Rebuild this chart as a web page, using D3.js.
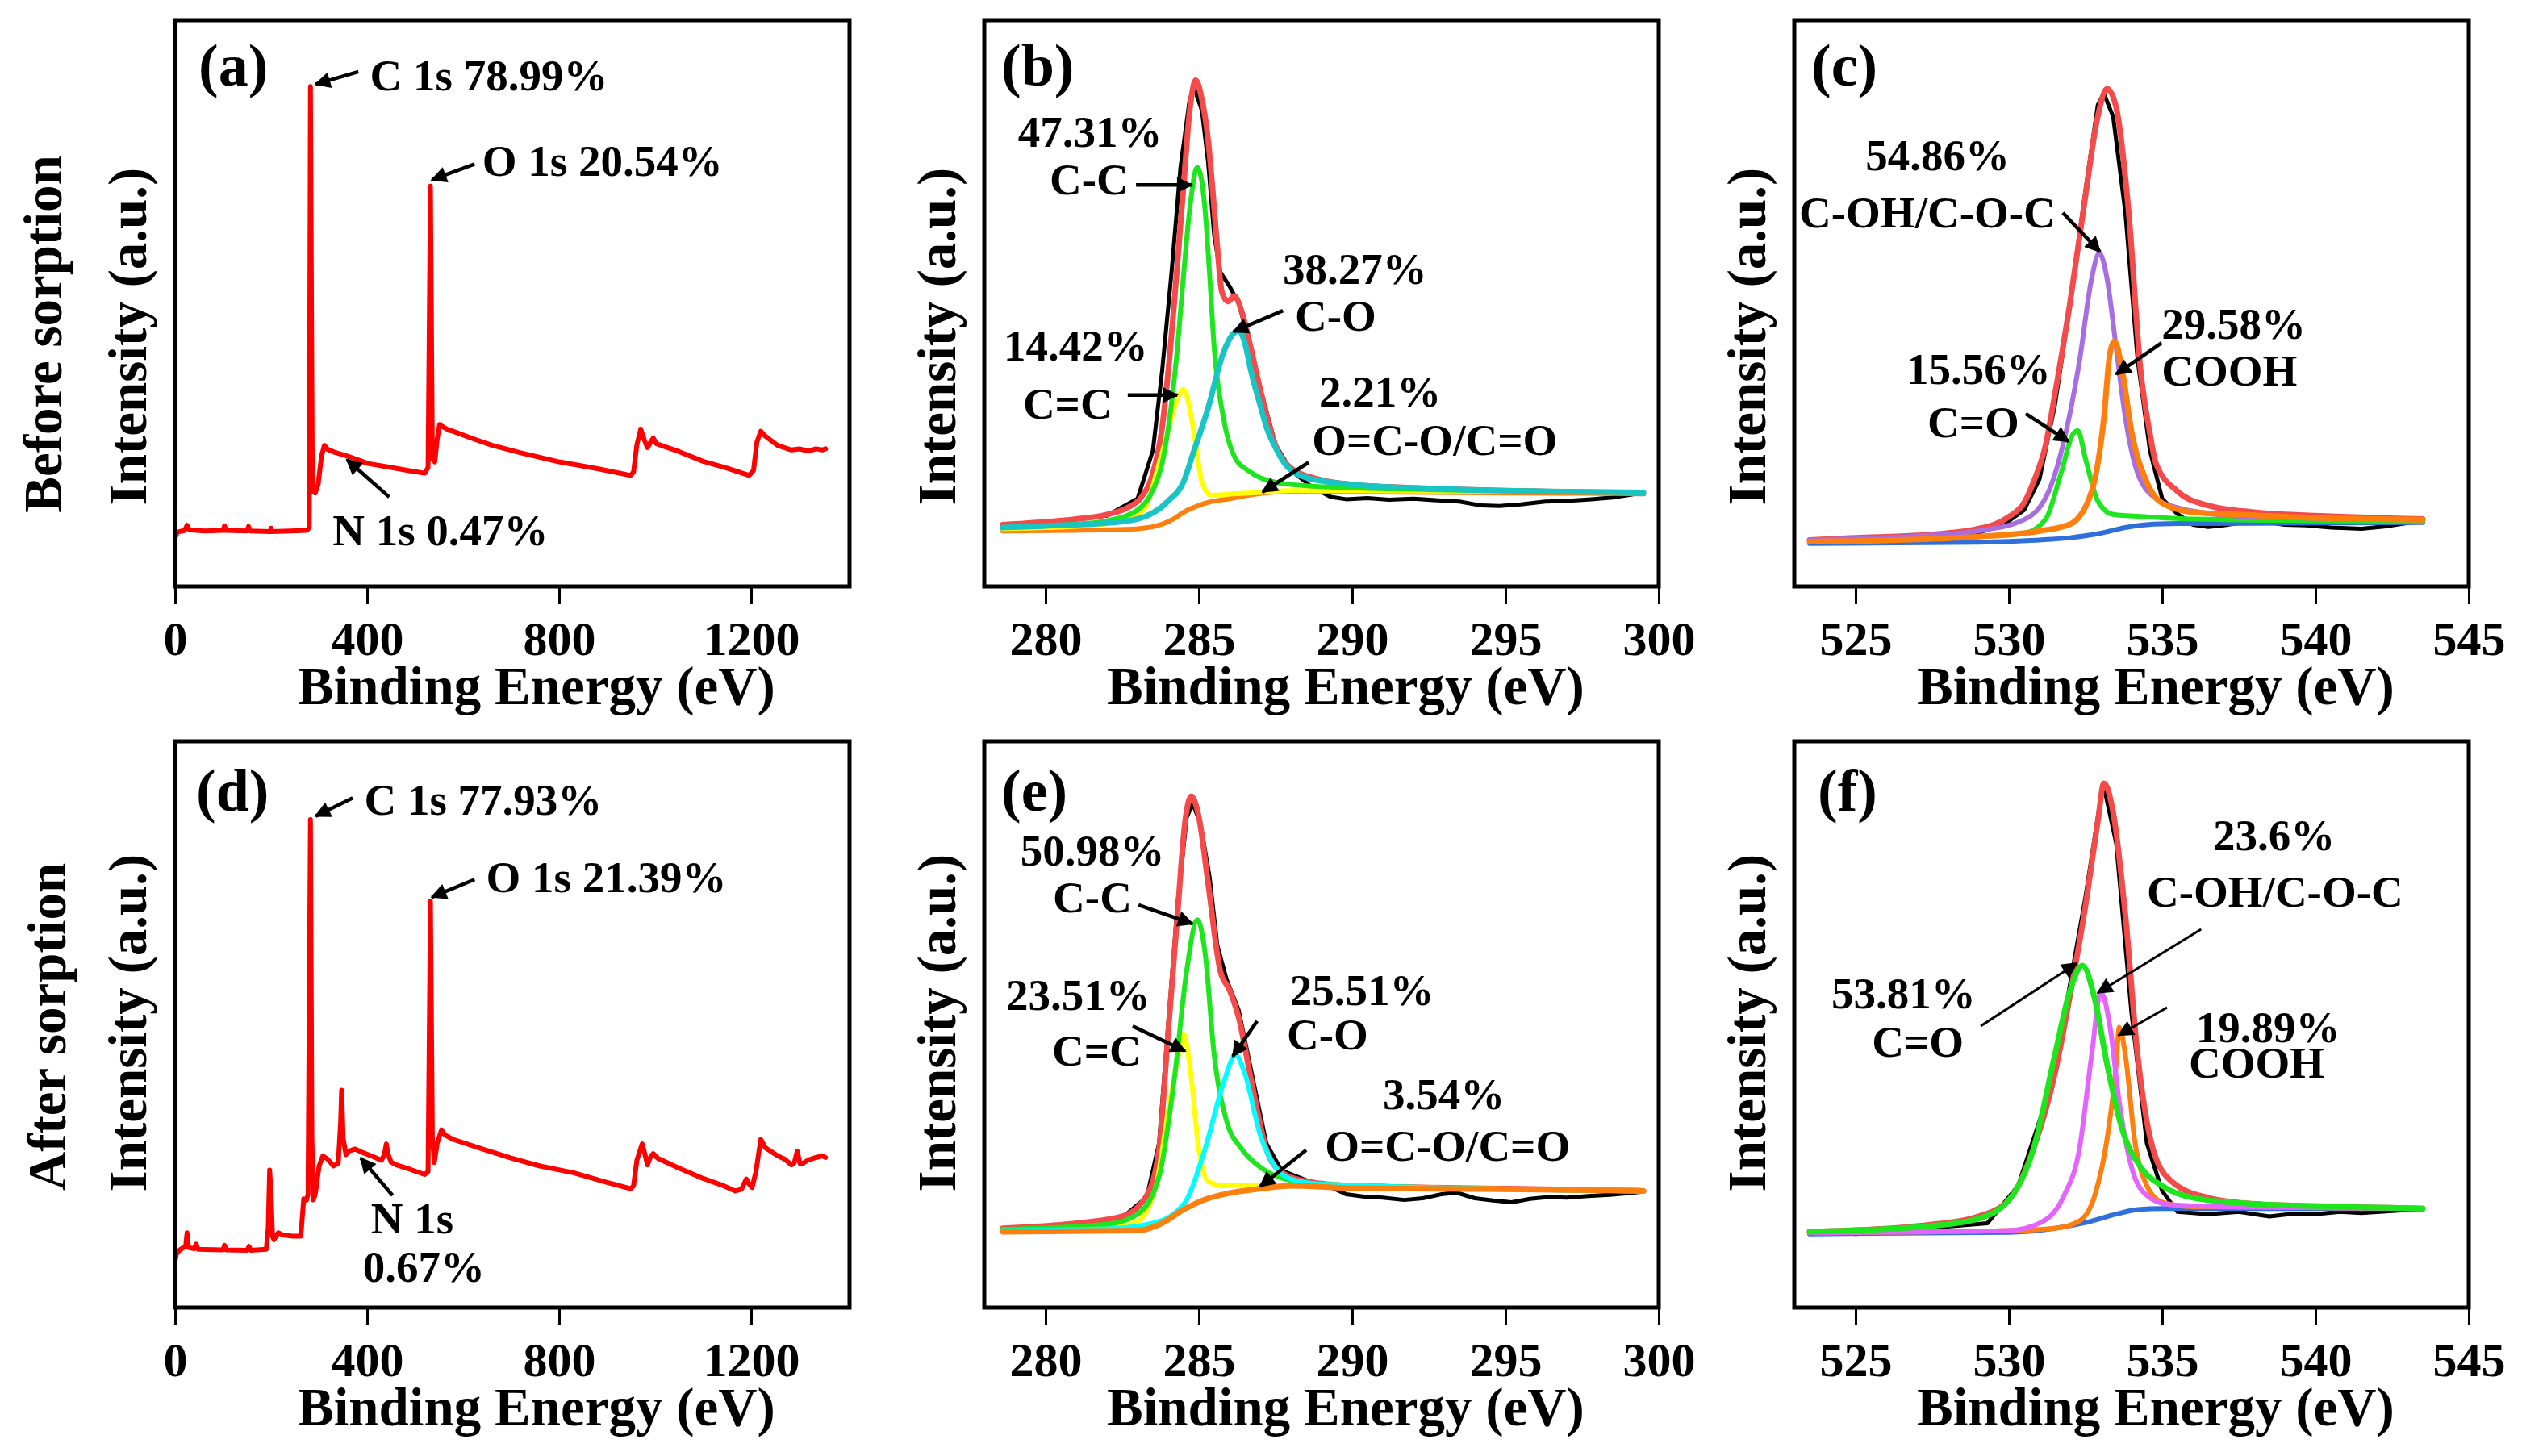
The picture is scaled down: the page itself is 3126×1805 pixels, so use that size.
<!DOCTYPE html>
<html>
<head>
<meta charset="utf-8">
<script src="https://cdn.jsdelivr.net/npm/d3@7"></script>
<style>
  body { margin: 0; background: #fff; }
  svg { display: block; }
  text { font-family: "Liberation Serif", "Times New Roman", serif; font-weight: bold; fill: #000; }
</style>
</head>
<body>
<svg id="chart"></svg>
<script>
// ---- survey spectra (binding energy eV, intensity a.u.) ----
const surveyBefore = [[0,8.6],[5,9.6],[20,9.9],[25,10.8],[30,10.0],[60,9.8],[100,9.9],[103,10.7],[106,9.9],[150,9.8],[153,10.6],[156,9.8],
  [198,9.7],[200,10.3],[202,9.7],[240,9.8],[275,9.9],[279.5,10.4],[282,88.3],[286,16.8],[292,16.5],[298,18],[305,23],[311,24.9],[318,24.2],
  [332,23.7],[360,23.0],[402,21.7],[450,21.0],[490,20.4],[520,20.0],[527,21],[532,70.7],[536,22.5],[541,22],[546,26],[551,28.6],[556,28.3],
  [570,27.6],[579,27.4],[620,26.1],[661,24.9],[720,23.6],[800,22.0],[880,20.8],[949,19.6],[955,20.2],[962,25],[970,27.8],[977,26],[984,24.5],
  [990,25.4],[996,26.2],[1003,25.2],[1050,23.8],[1100,22.1],[1150,20.9],[1196,19.6],[1205,20.5],[1212,25.5],[1220,27.4],[1230,26.5],
  [1255,24.9],[1284,24.1],[1300,24.3],[1320,23.9],[1335,24.3],[1349,24.1],[1355,24.3]];

const surveyAfter = [[0,8.3],[3,9.5],[10,10.2],[22,10.8],[25,13.2],[28,10.6],[40,10.4],[44,11.2],[48,10.3],[100,10.2],[103,11.0],[106,10.2],
  [150,10.1],[154,10.8],[158,10.1],[190,10.3],[194,14],[197,24.3],[200,20],[203,12.5],[206,12.0],[215,13.2],[225,12.8],[245,12.6],[262,12.6],
  [265,16],[268,19.2],[274,19.0],[277,20],[282,86.2],[285,30],[288,19],[292,20],[300,25],[308,26.8],[318,26.2],[330,25.0],[340,25.5],
  [345,33],[347,38.4],[350,30],[356,27.0],[361,27.6],[375,28.0],[390,27.4],[414,26.6],[430,26.0],[436,27],[440,28.9],[444,27],[450,25.7],
  [461,25.2],[490,24.4],[520,23.5],[527,24],[532,71.8],[536,30],[540,25.6],[546,29],[555,31.4],[562,30.5],[579,29.7],[640,28.0],[700,26.4],
  [760,25.0],[830,23.8],[900,22.1],[949,21.0],[955,21.5],[962,26],[973,28.9],[979,27],[984,25.2],[990,26.5],[996,27.2],[1005,26.4],
  [1050,24.6],[1100,22.8],[1140,21.6],[1167,20.6],[1180,20.9],[1190,22.7],[1196,21.8],[1202,21.2],[1210,24],[1220,29.7],[1230,28.2],
  [1255,26.8],[1270,26.2],[1284,25.2],[1290,25.6],[1296,27.6],[1302,25.4],[1308,25.5],[1320,26.1],[1335,26.5],[1349,26.8],[1355,26.5]];

// ---- C 1s before sorption ----
const c1sBeforeRaw = [[278.6,10.6],[280,11.2],[282,12.5],[283,15.5],[283.5,24],[283.8,38],[284.1,55],[284.4,74],[284.7,86],[284.85,88],
  [285.1,84],[285.3,75],[285.5,62],[285.7,55.5],[286.0,53],[286.3,50],[286.6,44],[287,35],[287.5,25],[288,20.5],[288.7,17.5],[289.3,15.8],
  [289.8,15.4],[290.5,15.6],[291.2,15.3],[292,15.5],[292.8,15.2],[293.5,15.0],[294.2,14.3],[294.8,14.2],[295.5,14.5],[296.3,15.0],
  [297,15.1],[297.8,15.4],[298.5,15.7],[299.2,16.3]];
const c1sBeforeFit = [[278.6,10.9],[280,11.4],[281,11.9],[282,12.7],[282.7,14.0],[283.1,15.6],[283.5,20.0],[283.8,28],[284.0,38.0],
  [284.3,57],[284.5,70.7],[284.7,84],[284.9,89.4],[285.1,86],[285.3,78.9],[285.45,70],[285.6,60],[285.75,52],[285.95,50.3],[286.15,51.3],
  [286.4,48.5],[286.7,42],[287.0,34.8],[287.5,24.9],[288.0,20.9],[289.0,18.8],[290,18.0],[292,17.4],[295,16.9],[299.5,16.4]];
const c1sBeforeCC2 = [[278.6,10.2],[281,10.6],[282.5,11.6],[283.2,13.5],[283.7,21.7],[284.0,27.5],[284.2,31.5],[284.5,34.8],[284.7,31.5],
  [284.9,25],[285.1,18.4],[285.4,16.1],[286,16.3],[287,16.6],[288,16.9],[290,16.9],[295,16.8],[299.5,16.6]];
const c1sBeforeCC = [[278.6,10.4],[281,11.0],[282,11.6],[283,13.5],[283.5,17],[283.8,21.7],[284.1,32],[284.3,42.1],[284.5,55],[284.7,66.6],
  [284.95,74.0],[285.2,66.6],[285.35,55],[285.5,42.1],[285.8,29.8],[286.2,22.5],[286.6,20.5],[287,19.2],[288,18],[290,17.4],[295,16.9],[299.5,16.6]];
const c1sBeforeCO = [[278.6,10.4],[280,10.7],[282,11.2],[283,11.9],[284,15.1],[284.5,18.5],[284.8,23.3],[285.3,31.5],[285.8,41.3],[286.1,44.5],
  [286.3,45.2],[286.5,43],[286.7,38],[287.0,32],[287.2,28.2],[287.5,24.5],[287.8,21.7],[288.5,19.2],[290,18],[293,17.2],[299.5,16.6]];
const c1sBeforeOCO = [[278.6,9.8],[282,10.0],[283,10.2],[283.8,11.0],[284.2,12.0],[284.5,13.1],[284.9,14.1],[285.2,14.7],[286,15.5],[287,16.4],
  [288,16.8],[290,16.7],[295,16.5],[299.5,16.4]];

// ---- O 1s before sorption ----
const o1sBeforeRaw = [[523.5,7.7],[524.2,8.0],[525,7.8],[526,8.2],[527,8.4],[528,8.8],[529,9.5],[529.8,10.8],[530.5,13.5],[531,19],[531.5,32],
  [532,50],[532.5,70],[532.9,85],[533.1,87],[533.4,83],[533.8,66],[534.2,40],[534.6,24],[535,15.5],[535.5,12.8],[536,10.9],[536.5,10.5],
  [537,10.8],[537.5,11.2],[538,11.5],[538.5,11.3],[539,10.9],[539.7,10.8],[540.5,10.4],[541.5,10.2],[542.3,10.6],[543,11.2],[543.5,11.4]];
const o1sBeforeFit = [[523.5,8.2],[525,8.6],[527,9.0],[529,10.2],[530,12.3],[530.5,14.8],[530.8,18.4],[531.2,25],[531.5,33.9],[532,50.3],
  [532.5,69.1],[532.9,83],[533.2,87.9],[533.5,84.6],[533.9,66.6],[534.3,38],[534.6,27],[534.8,21.7],[535.5,16.8],[536.5,14.3],[538,13.1],
  [540,12.5],[543.5,11.9]];
const o1sBeforeCOH = [[523.5,8.2],[527,8.9],[529,9.8],[530.5,11.8],[531.3,16.8],[531.8,25.8],[532.3,39.7],[532.7,54.4],[532.95,58.9],
  [533.2,54.4],[533.5,42.1],[533.8,29.8],[534.2,20.0],[534.8,15.5],[535.5,13.9],[536.5,12.9],[538,12.3],[543.5,11.8]];
const o1sBeforeCeO = [[523.5,7.9],[527,8.3],[529,8.8],[530.5,9.4],[531.2,11.9],[531.7,20.0],[532.1,27.0],[532.25,27.5],[532.5,22.5],
  [532.9,15.1],[533.4,12.7],[534.5,12.3],[536,11.9],[543.5,11.5]];
const o1sBeforeCOOH = [[523.5,7.9],[527,8.3],[529,8.8],[531,9.8],[532,11.0],[532.7,16.8],[533.1,29.8],[533.3,41.3],[533.45,43.3],[533.7,38.0],
  [534.0,27.4],[534.5,18.4],[535.0,14.7],[536,13.1],[537.5,12.7],[540,12.1],[543.5,11.8]];
const o1sBeforeBg = [[523.5,7.6],[529,7.8],[531,8.2],[532,8.6],[533,9.4],[533.8,10.4],[534.5,10.9],[535.5,11.1],[543.5,11.3]];

// ---- C 1s after sorption ----
const c1sAfterRaw = [[278.6,13.8],[281,14.7],[282.5,15.9],[283.3,19.5],[283.7,29],[284.0,50],[284.3,71],[284.6,86.5],[284.8,89],[285.05,85.5],
  [285.35,76],[285.6,64],[285.9,58],[286.3,52.5],[286.7,42],[287.2,29],[287.7,24.2],[288.5,22.5],[289.3,21.3],[289.8,20.0],[290.4,19.6],
  [291,19.4],[291.7,19.0],[292.3,19.3],[292.9,20.0],[293.4,20.3],[294,19.3],[294.6,18.9],[295.2,18.6],[295.8,19.2],[296.4,19.5],[297,19.4],
  [297.7,19.7],[298.4,19.9],[299,20.2],[299.5,20.5]];
const c1sAfterFit = [[278.6,14.0],[281,14.9],[282.5,16.1],[283.3,19.8],[283.7,28.0],[284.0,48.7],[284.3,69.3],[284.55,85.8],[284.75,90.3],
  [285.0,86.6],[285.3,75.0],[285.7,59.4],[286.0,56.1],[286.3,51.2],[286.7,40.4],[287.2,28.0],[287.7,23.9],[288.5,22.3],[290,21.5],[295,21.0],[299.5,20.6]];
const c1sAfterCC2 = [[278.6,13.6],[282,14.0],[283,15.2],[283.6,21.5],[284.0,34.7],[284.4,46.2],[284.5,48.3],[284.7,42.9],[285.0,28.0],
  [285.3,22.3],[285.8,21.5],[287,21.7],[290,21.3],[299.5,20.6]];
const c1sAfterCC = [[278.6,13.8],[282,14.7],[283,16.5],[283.7,23.1],[284.2,40.4],[284.6,59.4],[284.95,68.5],[285.2,62.7],[285.5,44.6],
  [285.9,33.0],[286.4,28.0],[287,24.8],[287.8,22.7],[289,21.8],[299.5,20.6]];
const c1sAfterCO = [[278.6,13.6],[282,13.9],[283.5,14.9],[284.5,18.2],[285.2,28.0],[285.8,39.6],[286.2,44.6],[286.5,41.3],[287.0,30.5],
  [287.5,24.8],[288,22.7],[289,21.8],[299.5,20.6]];
const c1sAfterOCO = [[278.6,13.4],[283,13.6],[283.8,14.9],[284.5,17.3],[285.2,19.1],[286,20.2],[287,21.0],[288,21.5],[290,21.1],[295,20.9],[299.5,20.6]];

// ---- O 1s after sorption ----
const o1sAfterRaw = [[523.5,13.1],[524.3,13.3],[525,13.0],[526,13.4],[527,13.8],[528,14.3],[529.3,14.9],[530.3,21.5],[531.2,36.3],[531.8,51.2],
  [532.5,72.6],[533.0,90.1],[533.1,92.0],[533.5,82],[534.0,52],[534.5,29],[535.0,20.6],[535.5,16.9],[536.5,16.5],[537.5,16.9],[538.5,16.1],
  [539.3,16.6],[540,16.5],[540.8,16.9],[541.5,16.7],[542.3,17.0],[543.5,17.4]];
const o1sAfterFit = [[523.5,13.4],[527,14.4],[529,16.1],[530,19.0],[530.8,28.0],[531.5,41.3],[532.0,55.3],[532.5,71.0],[532.9,85.8],[533.1,92.6],
  [533.4,87.5],[533.8,69.3],[534.2,44.6],[534.7,28.0],[535.3,22.3],[536.5,19.4],[538,18.3],[540,17.9],[543.5,17.5]];
const o1sAfterCeO = [[523.5,13.4],[527,14.2],[529,15.7],[530,19.0],[530.8,28.0],[531.5,44.6],[532.0,56.1],[532.4,60.4],[532.8,54.5],[533.2,43.0],
  [533.7,31.4],[534.3,24.8],[535,21.5],[536,19.4],[538,18.3],[540,17.9],[543.5,17.5]];
const o1sAfterCOH = [[523.5,13.2],[530,13.6],[531,14.9],[531.8,19.8],[532.3,28.0],[532.7,44.6],[533.0,55.7],[533.3,49.5],[533.6,36.3],[534.0,24.8],
  [534.5,19.8],[535.2,18.2],[537,17.8],[543.5,17.5]];
const o1sAfterCOOH = [[523.5,13.2],[530,13.6],[531.5,14.0],[532.3,15.3],[532.8,19.8],[533.2,29.7],[533.5,42.9],[533.6,49.5],[533.8,44.6],
  [534.1,29.7],[534.5,21.5],[535,18.6],[536,17.8],[543.5,17.5]];
const o1sAfterBg = [[523.5,13.0],[530,13.3],[531.5,14.0],[532.5,15.0],[533.5,16.5],[534.2,17.3],[535,17.5],[537,17.5],[543.5,17.5]];

// ---- axes ----
const surveyTicks = [0, 400, 800, 1200];
const c1sTicks = [280, 285, 290, 295, 300];
const o1sTicks = [525, 530, 535, 540, 545];
const rowTitles = ["Before sorption", "After sorption"];

// ---- annotations: [text, eV, intensity] and arrows [fromX, fromY, toX, toY] in data units ----
const notesA = [["C 1s 78.99%", 406, 87.6], ["O 1s 20.54%", 640, 72.5], ["N 1s 0.47%", 328, 7.3]];
const arrowsA = [[382, 90.9, 293, 88.7], [624, 74.6, 535, 71.8], [446, 15.8, 358, 22.4]];
const notesB = [["47.31%", 279.1, 77.6], ["C-C", 280.13, 69.2], ["38.27%", 287.74, 53.4], ["C-O", 288.13, 45.2],
  ["14.42%", 278.63, 39.9], ["C=C", 279.26, 29.6], ["2.21%", 288.92, 31.8], ["O=C-O/C=O", 288.69, 23.2]];
const arrowsB = [[282.95, 70.9, 284.76, 70.9], [287.74, 48.7, 286.13, 45.0], [282.68, 33.8, 284.29, 33.8], [288.58, 21.9, 287.08, 16.7]];
const notesC = [["54.86%", 525.32, 73.5], ["C-OH/C-O-C", 523.16, 63.4], ["29.58%", 534.98, 43.7], ["COOH", 534.98, 35.5],
  ["15.56%", 526.66, 35.8], ["C=O", 527.34, 26.4]];
const arrowsC = [[531.76, 66.0, 532.97, 59.1], [534.98, 43.0, 533.5, 37.5], [530.55, 30.5, 531.95, 25.6]];
const notesD = [["C 1s 77.93%", 394, 87.0], ["O 1s 21.39%", 648, 73.4], ["N 1s", 408, 13.1], ["0.67%", 391, 4.6]];
const arrowsD = [[453, 19.8, 387, 26.4], [370, 90.0, 293, 86.8], [624, 75.6, 535, 72.5]];
const notesE = [["50.98%", 279.18, 78.1], ["C-C", 280.24, 69.8], ["23.51%", 278.71, 52.6], ["C=C", 280.21, 42.7],
  ["25.51%", 287.97, 53.4], ["C-O", 287.87, 45.6], ["3.54%", 291.0, 35.0], ["O=C-O/C=O", 289.11, 25.9]];
const arrowsE = [[283.03, 71.1, 284.79, 67.8], [282.84, 49.7, 284.55, 45.3], [286.9, 50.6, 286.11, 44.4], [288.5, 27.8, 287.0, 21.4]];
const notesF = [["23.6%", 536.66, 80.8], ["C-OH/C-O-C", 534.5, 70.8], ["53.81%", 524.21, 52.8], ["C=O", 525.53, 44.3],
  ["19.89%", 536.1, 46.9], ["COOH", 535.87, 40.6]];
const arrowsF = [[536.27, 66.8, 532.9, 55.6], [529.08, 49.7, 532.21, 60.8], [535.16, 53.0, 533.58, 48.1]];

// ---- layout ----
const width = 3126, height = 1805;
const colX = [217, 1220, 2224];
const rowY = [25, 919];
const pw = 836, ph = 702;

const RED = "#ff0000", FIT = "#f44a4a", GREEN = "#1ee61e", YELLOW = "#ffff00", ORANGE = "#ff7f0e",
  BLUE = "#2f6fdc", BLACK = "#000000";

const panels = [
  { label: "(a)", lx: 29, col: 0, row: 0, domain: [0, 1405], ticks: surveyTicks, notes: notesA, arrows: arrowsA,
    series: [{ d: surveyBefore, c: RED, w: 6, linear: true }] },
  { label: "(b)", lx: 21, col: 1, row: 0, domain: [278, 300], ticks: c1sTicks, notes: notesB, arrows: arrowsB,
    series: [{ d: c1sBeforeRaw, c: BLACK, w: 5, linear: true }, { d: c1sBeforeFit, c: FIT, w: 7 },
      { d: c1sBeforeOCO, c: ORANGE, w: 6 }, { d: c1sBeforeCC2, c: YELLOW, w: 6 },
      { d: c1sBeforeCC, c: GREEN, w: 6 }, { d: c1sBeforeCO, c: "#18c4c4", w: 7 }] },
  { label: "(c)", lx: 21, col: 2, row: 0, domain: [523, 545], ticks: o1sTicks, notes: notesC, arrows: arrowsC,
    series: [{ d: o1sBeforeRaw, c: BLACK, w: 5, linear: true }, { d: o1sBeforeFit, c: FIT, w: 7 },
      { d: o1sBeforeBg, c: BLUE, w: 6 }, { d: o1sBeforeCeO, c: GREEN, w: 6 },
      { d: o1sBeforeCOH, c: "#a86ee0", w: 6 }, { d: o1sBeforeCOOH, c: ORANGE, w: 7 }] },
  { label: "(d)", lx: 26, col: 0, row: 1, domain: [0, 1405], ticks: surveyTicks, notes: notesD, arrows: arrowsD,
    series: [{ d: surveyAfter, c: RED, w: 6, linear: true }] },
  { label: "(e)", lx: 21, col: 1, row: 1, domain: [278, 300], ticks: c1sTicks, notes: notesE, arrows: arrowsE,
    series: [{ d: c1sAfterRaw, c: BLACK, w: 5, linear: true }, { d: c1sAfterFit, c: FIT, w: 7 },
      { d: c1sAfterCC2, c: YELLOW, w: 6 }, { d: c1sAfterCC, c: GREEN, w: 6 },
      { d: c1sAfterCO, c: "#00ffff", w: 6 }, { d: c1sAfterOCO, c: ORANGE, w: 7 }] },
  { label: "(f)", lx: 29, col: 2, row: 1, domain: [523, 545], ticks: o1sTicks, notes: notesF, arrows: arrowsF,
    series: [{ d: o1sAfterRaw, c: BLACK, w: 5, linear: true }, { d: o1sAfterFit, c: FIT, w: 7 },
      { d: o1sAfterBg, c: BLUE, w: 6 }, { d: o1sAfterCOOH, c: ORANGE, w: 6 },
      { d: o1sAfterCOH, c: "#e464ff", w: 6 }, { d: o1sAfterCeO, c: GREEN, w: 7 }] },
];

const svg = d3.select("#chart").attr("width", width).attr("height", height);
svg.append("rect").attr("width", width).attr("height", height).attr("fill", "#fff");

// arrow head
svg.append("defs").append("marker")
    .attr("id", "head")
    .attr("viewBox", "0 0 10 10")
    .attr("refX", 9).attr("refY", 5)
    .attr("markerUnits", "userSpaceOnUse")
    .attr("markerWidth", 26).attr("markerHeight", 20)
    .attr("orient", "auto")
  .append("path")
    .attr("d", "M0,0 L10,5 L0,10 Z")
    .attr("fill", "#000");

// row titles
const rowTitleY = [414, 1273];
const rowTitleX = [76, 81];
rowTitles.forEach((t, i) => {
  svg.append("text")
      .attr("transform", `translate(${rowTitleX[i]},${rowTitleY[i]}) rotate(-90)`)
      .attr("text-anchor", "middle")
      .style("font-size", "67px")
      .text(t);
});

const intensityY = [417, 1268];

for (const p of panels) {
  const x0 = colX[p.col], y0 = rowY[p.row];
  const g = svg.append("g").attr("transform", `translate(${x0},${y0})`);

  const x = d3.scaleLinear().domain(p.domain).range([0, pw]);
  const y = d3.scaleLinear().domain([0, 100]).range([ph, 0]);

  // spectra
  for (const s of p.series) {
    const line = d3.line()
        .x(d => x(d[0]))
        .y(d => y(d[1]))
        .curve(s.linear ? d3.curveLinear : d3.curveMonotoneX);
    g.append("path")
        .datum(s.d)
        .attr("fill", "none")
        .attr("stroke", s.c)
        .attr("stroke-width", s.w)
        .attr("stroke-linejoin", "round")
        .attr("stroke-linecap", "round")
        .attr("d", line);
  }

  // frame
  g.append("rect")
      .attr("width", pw).attr("height", ph)
      .attr("fill", "none").attr("stroke", "#000").attr("stroke-width", 5);

  // x axis with outward ticks
  const xAxis = d3.axisBottom(x).tickValues(p.ticks).tickSize(22).tickPadding(20).tickFormat(d3.format("d"));
  const ax = g.append("g").attr("transform", `translate(0,${ph})`).call(xAxis);
  ax.select(".domain").remove();
  ax.selectAll(".tick line").attr("stroke", "#000").attr("stroke-width", 3);
  ax.selectAll(".tick text")
      .attr("fill", "#000")
      .style("font-family", "'Liberation Serif','Times New Roman',serif")
      .style("font-weight", "bold")
      .style("font-size", "60px");

  // axis titles
  g.append("text")
      .attr("x", pw / 2 + 30).attr("y", ph + 146)
      .attr("text-anchor", "middle")
      .style("font-size", "67px")
      .text("Binding Energy (eV)");
  g.append("text")
      .attr("transform", `translate(-36,${intensityY[p.row] - y0}) rotate(-90)`)
      .attr("text-anchor", "middle")
      .style("font-size", "67px")
      .text("Intensity (a.u.)");

  // panel label
  g.append("text")
      .attr("x", p.lx).attr("y", p.row === 0 ? 81 : 86)
      .style("font-size", "74px")
      .text(p.label);

  // annotations
  for (const [t, ex, iy] of p.notes) {
    g.append("text")
        .attr("x", x(ex)).attr("y", y(iy))
        .style("font-size", "55px")
        .text(t);
  }
  for (const [ax1, ay1, ax2, ay2] of p.arrows) {
    g.append("line")
        .attr("x1", x(ax1)).attr("y1", y(ay1))
        .attr("x2", x(ax2)).attr("y2", y(ay2))
        .attr("stroke", "#000")
        .attr("stroke-width", p.label === "(f)" ? 3 : 4.5)
        .attr("marker-end", "url(#head)");
  }
}
</script>
</body>
</html>
